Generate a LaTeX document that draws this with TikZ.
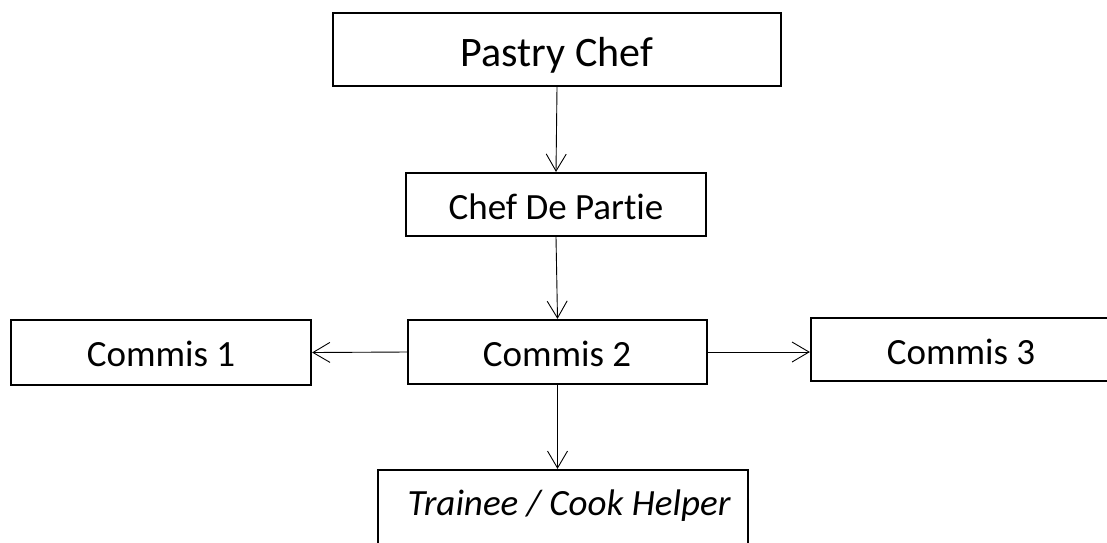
\documentclass[tikz,border=0pt]{standalone}
\usepackage{fontspec}
\setmainfont[Ligatures=NoCommon]{Carlito}
\usetikzlibrary{arrows.meta}
\begin{document}
\begin{tikzpicture}[x=1pt,y=-1pt,
  box/.style={draw, line width=2.2pt, inner sep=0pt, rectangle},
  lbl/.style={inner sep=0pt, text depth=0pt, anchor=center},
  big/.style={font=\fontsize{42}{50}\selectfont, text height=27pt},
  mid/.style={font=\fontsize{37}{44}\selectfont, text height=23.8pt},
  conn/.style={line width=0.9pt, -{Straight Barb[length=17pt,width=20pt]}}]
\useasboundingbox (0,0) rectangle (1107,542);
\clip (0,0) rectangle (1107,542);
% boxes
\node[box, minimum width=448pt, minimum height=73pt] (pastry) at (557,49.5) {};
\node[box, minimum width=300pt, minimum height=63pt] (chef) at (556,204.5) {};
\node[box, minimum width=300pt, minimum height=65pt] (c1) at (161,352.5) {};
\node[box, minimum width=299pt, minimum height=64pt] (c2) at (557.5,352) {};
\node[box, minimum width=300pt, minimum height=63pt] (c3) at (961,349.5) {};
\node[box, minimum width=370pt, minimum height=80pt] (tr) at (563,510) {};
% labels
\node[lbl, big] (tpastry) at (557,52.5) {Pastry Chef};
\node[lbl, mid] (tchef) at (556,207.5) {Chef De Partie};
\node[lbl, mid] (tc1) at (161,355) {Commis 1};
\node[lbl, mid] (tc2) at (557,355) {Commis 2};
\node[lbl, mid] (tc3) at (961,353) {Commis 3};
\node[lbl, mid] (ttr) at (569,504) {\itshape Trainee / Cook Helper};
% connectors
\draw[conn] (pastry.south) -- (chef.north);
\draw[conn] (chef.south) -- (c2.north);
\draw[conn] (c2.west) -- (c1.east);
\draw[conn] (c2.east) -- (c2.east -| c3.west);
\draw[conn] (c2.south) -- (c2.south |- tr.north);
\end{tikzpicture}
\end{document}
